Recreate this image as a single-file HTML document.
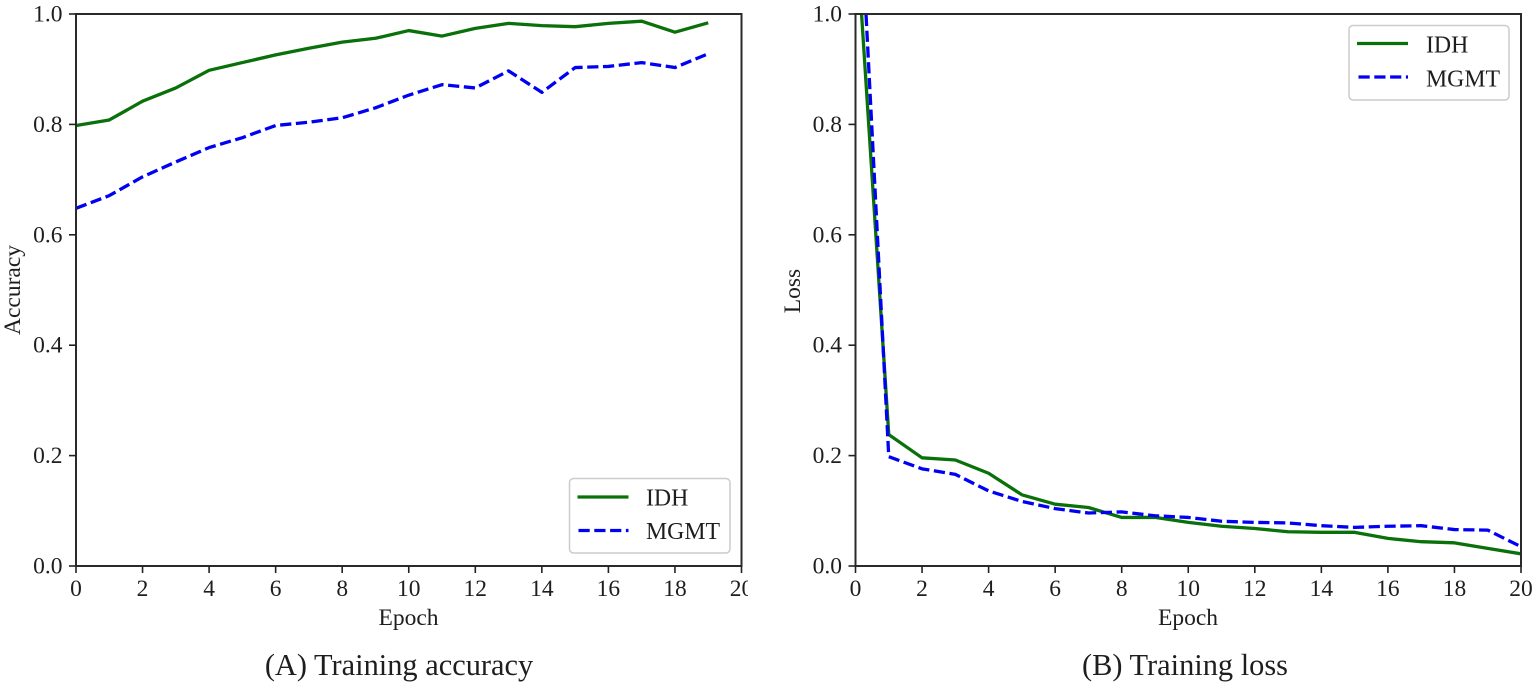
<!DOCTYPE html>
<html>
<head>
<meta charset="utf-8">
<title>Training accuracy and loss</title>
<style>
html,body{margin:0;padding:0;background:#fff;}
body{width:1535px;height:688px;overflow:hidden;}
svg{display:block;}
text{font-family:"Liberation Serif",serif;fill:#1e1e1e;}
</style>
</head>
<body>
<svg id="figure" width="1535" height="688" viewBox="0 0 1535 688" xmlns="http://www.w3.org/2000/svg">
  <defs>
    <clipPath id="clip-a"><rect x="76" y="14" width="665.5" height="552"/></clipPath>
    <clipPath id="clip-b"><rect x="855.5" y="14" width="665.5" height="552"/></clipPath>
    <clipPath id="clip-edge"><rect x="0" y="0" width="748" height="688"/></clipPath>
  </defs>
  <g id="panel-a"></g>
  <g id="panel-b"></g>

  <g>
    <rect x="569.5" y="478.5" width="160.5" height="74.5" rx="4" fill="#fff" stroke="#cccccc" stroke-width="1.5"/>
    <line x1="577.5" y1="497" x2="628.5" y2="497" stroke="#0a700a" stroke-width="3.3"/>
    <text x="646" y="505.5" font-size="23.8">IDH</text>
    <line x1="578.5" y1="530.5" x2="628.5" y2="530.5" stroke="#0000f5" stroke-width="3.3" stroke-dasharray="11.2 4.6"/>
    <text x="646" y="539" font-size="23.8">MGMT</text>
  </g>

  <g>
    <rect x="1349" y="25.5" width="160" height="74.5" rx="4" fill="#fff" stroke="#cccccc" stroke-width="1.5"/>
    <line x1="1357" y1="43.5" x2="1408" y2="43.5" stroke="#0a700a" stroke-width="3.3"/>
    <text x="1426" y="52.5" font-size="23.8">IDH</text>
    <line x1="1358.5" y1="77" x2="1408" y2="77" stroke="#0000f5" stroke-width="3.3" stroke-dasharray="11.2 4.6"/>
    <text x="1426" y="86.5" font-size="23.8">MGMT</text>
  </g>
</svg>
<script>
var xTickLabels = ['0', '2', '4', '6', '8', '10', '12', '14', '16', '18', '20'];
var yTickLabels = ['0.0', '0.2', '0.4', '0.6', '0.8', '1.0'];

var accuracyEpochs = [0, 1, 2, 3, 4, 5, 6, 7, 8, 9, 10, 11, 12, 13, 14, 15, 16, 17, 18, 19];
var accuracyIdh = [0.798, 0.808, 0.842, 0.866, 0.898, 0.912, 0.926, 0.938, 0.949, 0.956, 0.970, 0.960, 0.974, 0.983, 0.979, 0.977, 0.983, 0.987, 0.967, 0.984];
var accuracyMgmt = [0.648, 0.671, 0.705, 0.732, 0.758, 0.776, 0.798, 0.804, 0.812, 0.830, 0.853, 0.872, 0.866, 0.897, 0.858, 0.903, 0.905, 0.912, 0.903, 0.928];

var lossEpochs = [0, 1, 2, 3, 4, 5, 6, 7, 8, 9, 10, 11, 12, 13, 14, 15, 16, 17, 18, 19, 20];
var lossIdh = [1.17, 0.238, 0.196, 0.192, 0.168, 0.129, 0.112, 0.106, 0.088, 0.088, 0.079, 0.072, 0.068, 0.062, 0.061, 0.061, 0.050, 0.044, 0.042, 0.032, 0.022];
var lossMgmt = [1.37, 0.198, 0.176, 0.166, 0.136, 0.117, 0.104, 0.096, 0.098, 0.091, 0.088, 0.081, 0.079, 0.078, 0.073, 0.070, 0.072, 0.073, 0.066, 0.065, 0.035];

var NS = 'http://www.w3.org/2000/svg';

function make(parent, tag, attrs, content) {
  var el = document.createElementNS(NS, tag);
  for (var k in attrs) { el.setAttribute(k, attrs[k]); }
  if (content !== undefined) { el.textContent = content; }
  parent.appendChild(el);
  return el;
}

function drawPanel(root, cfg) {
  var xMin = 0, xMax = 20, yMin = 0, yMax = 1;
  var top = 14, bottom = 566;
  function xScale(v) { return cfg.left + (v - xMin) / (xMax - xMin) * (cfg.right - cfg.left); }
  function yScale(v) { return bottom - (v - yMin) / (yMax - yMin) * (bottom - top); }

  function series(values, color, dash, name) {
    var pts = cfg.epochs.map(function (e, i) {
      return xScale(e).toFixed(2) + ',' + yScale(values[i]).toFixed(2);
    }).join(' ');
    var attrs = { points: pts, fill: 'none', stroke: color, 'stroke-width': 3.3, 'stroke-linejoin': 'round', 'clip-path': 'url(#' + cfg.clip + ')' };
    if (dash) { attrs['stroke-dasharray'] = dash; }
    var line = make(root, 'polyline', attrs);
    
    
  }

  series(cfg.idh, '#0a700a', null, cfg.prefix + '-idh-line');
  series(cfg.mgmt, '#0000f5', '11.2 4.6', cfg.prefix + '-mgmt-line');

  var frame = make(root, 'rect', { x: cfg.left, y: top, width: cfg.right - cfg.left, height: bottom - top, fill: 'none', stroke: '#2a2a2a', 'stroke-width': 2 });
  
  

  xTickLabels.forEach(function (label) {
    var px = xScale(parseFloat(label));
    var tick = make(root, 'line', { x1: px, y1: bottom, x2: px, y2: bottom + 7, stroke: '#222', 'stroke-width': 1.6 });
    
    
    var attrs = { x: px, y: 596, 'font-size': 23.5, 'text-anchor': 'middle' };
    if (cfg.clipLastLabel) { attrs['clip-path'] = 'url(#clip-edge)'; }
    var t = make(root, 'text', attrs, label);
    
    
  });

  yTickLabels.forEach(function (label) {
    var py = yScale(parseFloat(label));
    var tick = make(root, 'line', { x1: cfg.left - 7, y1: py, x2: cfg.left, y2: py, stroke: '#222', 'stroke-width': 1.6 });
    
    
    var t = make(root, 'text', { x: cfg.left - 13.5, y: py + 7.5, 'font-size': 23.5, 'text-anchor': 'end' }, label);
    
    
  });

  var xTitle = make(root, 'text', { x: cfg.xTitleX, y: 625, 'font-size': 23.5, 'text-anchor': 'middle' }, 'Epoch');
  
  

  var yTitle = make(root, 'text', { x: 0, y: 0, 'font-size': 23.5, 'text-anchor': 'middle', transform: 'translate(' + cfg.yTitleX + ' ' + cfg.yTitleY + ') rotate(-90)' }, cfg.yTitle);
  
  

  var caption = make(root, 'text', { x: cfg.captionX, y: 675, 'font-size': 30.4, 'text-anchor': 'middle' }, cfg.caption);
  
  
}

drawPanel(document.getElementById('panel-a'), {
  prefix: 'accuracy', left: 76, right: 741.5, clip: 'clip-a', clipLastLabel: true,
  epochs: accuracyEpochs, idh: accuracyIdh, mgmt: accuracyMgmt,
  yTitle: 'Accuracy', yTitleX: 20, yTitleY: 290, xTitleX: 408.5,
  caption: '(A) Training accuracy', captionX: 399
});

drawPanel(document.getElementById('panel-b'), {
  prefix: 'loss', left: 855.5, right: 1521, clip: 'clip-b', clipLastLabel: false,
  epochs: lossEpochs, idh: lossIdh, mgmt: lossMgmt,
  yTitle: 'Loss', yTitleX: 800, yTitleY: 291, xTitleX: 1188,
  caption: '(B) Training loss', captionX: 1185
});
</script>
</body>
</html>
